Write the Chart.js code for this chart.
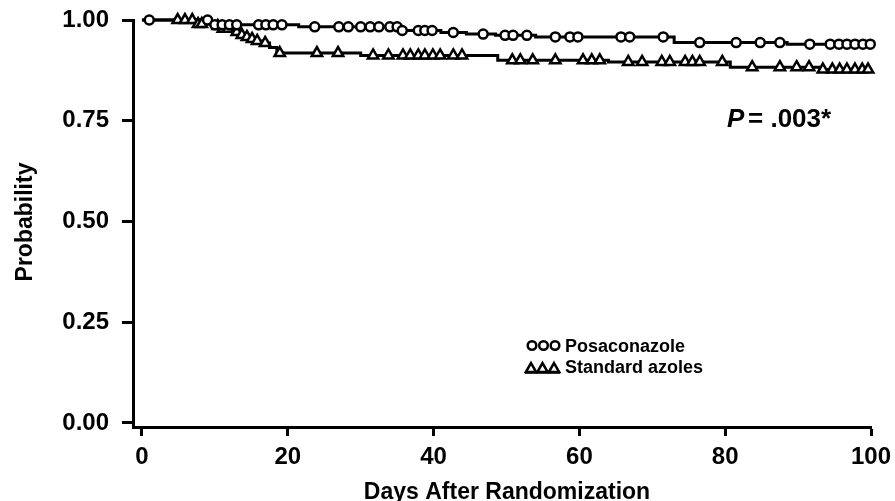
<!DOCTYPE html>
<html><head><meta charset="utf-8">
<script src="https://cdn.jsdelivr.net/npm/chart.js@4.4.0/dist/chart.umd.min.js"></script>
<style>html,body{margin:0;padding:0;background:#fff;} #wrap{width:895px;height:501px;position:relative;}</style>
</head><body><div id="wrap"><canvas id="c" width="895" height="501"></canvas></div>
<script>
// ---- data ----
const xTickValues = [0, 20, 40, 60, 80, 100];
const yTickValues = [0, 0.25, 0.5, 0.75, 1.0];
const xTitle = 'Days After Randomization';
const yTitle = 'Probability';
const seriesNames = ['Posaconazole', 'Standard azoles'];
const pLabel = 'P';
const pValueText = '= .003*';

const posaEventDays = [0, 9.5, 21.5, 35.5, 41, 44.5, 48.5, 54, 73, 88.5];
const posaSurvival  = [1, 0.988, 0.983, 0.974, 0.969, 0.965, 0.962, 0.958, 0.944, 0.940];
const posaCensorDays = [1, 9, 10, 11, 12, 13, 16, 17, 18, 19.2, 23.7, 27, 28.3, 30, 31.3, 32.5, 34, 35, 35.7, 37.9, 38.8, 39.8, 42.7, 46.8, 49.8, 50.9, 52.8, 56.7, 58.7, 59.8, 65.7, 66.9, 71.5, 76.5, 81.5, 84.8, 87.5, 91.6, 94.4, 95.6, 96.7, 97.8, 98.9, 99.9];

const stdEventDays = [0, 7.4, 9.6, 10.9, 12.4, 13.4, 14.1, 14.8, 15.5, 16.4, 17.5, 18.5, 30, 48.8, 64, 80.7, 93];
const stdSurvival  = [1, 0.990, 0.985, 0.978, 0.970, 0.963, 0.958, 0.953, 0.948, 0.943, 0.932, 0.918, 0.912, 0.900, 0.896, 0.883, 0.877];
const stdCensorDays = [4.9, 5.9, 6.9, 7.7, 8.2, 10.4, 11.1, 11.8, 13.0, 13.7, 14.4, 15.1, 15.8, 16.9, 18.9, 24, 26.9, 31.7, 33.8, 35.8, 36.8, 37.9, 38.8, 39.9, 40.9, 42.7, 43.9, 50.8, 51.9, 53.6, 56.7, 60.5, 61.7, 62.8, 66.7, 68.6, 71.3, 72.4, 74.5, 75.5, 76.5, 79.6, 83.7, 87.5, 89.8, 91.5, 93.4, 94.7, 95.7, 96.7, 97.8, 98.8, 99.6];

const xEnd = 100;

// ---- helpers ----
function stepAt(days, surv, d) {
  let v = surv[0];
  for (let i = 0; i < days.length; i++) { if (days[i] <= d) v = surv[i]; }
  return v;
}
function curve(days, surv) {
  const pts = days.map((d, i) => ({x: d, y: surv[i]}));
  pts.push({x: xEnd, y: surv[surv.length - 1]});
  return pts;
}
function censors(days, surv, cd) {
  return cd.map(d => ({x: d, y: stepAt(days, surv, d)}));
}

const FONT = '"Liberation Sans", Arial, Helvetica, sans-serif';

const annot = {
  id: 'annot',
  afterDraw(chart) {
    const ctx = chart.ctx;
    ctx.save();
    ctx.fillStyle = '#000';
    ctx.strokeStyle = '#000';
    ctx.textBaseline = 'alphabetic';
    // x title
    ctx.font = 'bold 23px ' + FONT;
    ctx.textAlign = 'center';
    ctx.fillText(xTitle, 507, 499);
    // y title
    ctx.save();
    ctx.translate(32, 222);
    ctx.rotate(-Math.PI / 2);
    ctx.font = 'bold 23px ' + FONT;
    ctx.fillText(yTitle, 0, 0);
    ctx.restore();
    // p value
    ctx.textAlign = 'left';
    ctx.font = 'italic bold 26px ' + FONT;
    ctx.fillText(pLabel, 727, 127);
    ctx.font = 'bold 26px ' + FONT;
    ctx.fillText(pValueText, 748, 127);
    // legend
    ctx.lineWidth = 2.5;
    [532, 543.5, 555].forEach(cx => {
      ctx.beginPath(); ctx.arc(cx, 345.5, 4.3, 0, Math.PI * 2);
      ctx.fillStyle = '#fff'; ctx.fill(); ctx.stroke();
    });
    ctx.beginPath(); ctx.moveTo(525, 372.5); ctx.lineTo(560, 372.5); ctx.stroke();
    [531, 542.5, 554].forEach(cx => {
      const r = 6, cy = 369;
      ctx.beginPath();
      ctx.moveTo(cx, cy - r);
      ctx.lineTo(cx + r * 0.866, cy + r / 2);
      ctx.lineTo(cx - r * 0.866, cy + r / 2);
      ctx.closePath();
      ctx.fillStyle = '#fff'; ctx.fill(); ctx.stroke();
    });
    ctx.fillStyle = '#000';
    ctx.font = 'bold 18px ' + FONT;
    ctx.fillText(seriesNames[0], 565, 352);
    ctx.fillText(seriesNames[1], 565, 373);
    ctx.restore();
  }
};

new Chart(document.getElementById('c'), {
  type: 'line',
  data: {
    datasets: [
      { label: seriesNames[0] + ' censored', data: censors(posaEventDays, posaSurvival, posaCensorDays), showLine: false,
        pointStyle: 'circle', pointRadius: 4.5, pointBorderWidth: 2.5, pointBackgroundColor: '#fff', pointBorderColor: '#000', clip: false },
      { label: seriesNames[1] + ' censored', data: censors(stdEventDays, stdSurvival, stdCensorDays), showLine: false,
        pointStyle: 'triangle', pointRadius: 6, pointBorderWidth: 2.5, pointBackgroundColor: '#fff', pointBorderColor: '#000', clip: false },
      { label: seriesNames[0], data: curve(posaEventDays, posaSurvival), stepped: true, borderColor: '#000', borderWidth: 3, pointRadius: 0, fill: false, clip: false },
      { label: seriesNames[1], data: curve(stdEventDays, stdSurvival), stepped: true, borderColor: '#000', borderWidth: 3, pointRadius: 0, fill: false, clip: false }
    ]
  },
  options: {
    responsive: false,
    animation: false,
    devicePixelRatio: 1,
    layout: { padding: { left: 0, right: 24, top: 20, bottom: 0 } },
    plugins: { legend: { display: false }, tooltip: { enabled: false } },
    scales: {
      x: {
        type: 'linear', min: -1.23, max: 100,
        afterBuildTicks: s => { s.ticks = xTickValues.map(v => ({value: v})); },
        afterFit: s => { s.height = 74; s.paddingLeft = 0; s.paddingRight = 0; },
        grid: { display: true, drawOnChartArea: false, drawTicks: true, tickLength: 9, tickWidth: 3, tickColor: '#000' },
        border: { display: true, width: 3, color: '#000' },
        ticks: { color: '#000', font: { family: FONT, size: 24, weight: 'bold' }, padding: 7, maxRotation: 0, autoSkip: false }
      },
      y: {
        type: 'linear', min: -0.01, max: 1.0,
        afterBuildTicks: s => { s.ticks = yTickValues.map(v => ({value: v})); },
        afterFit: s => { s.width = 133; s.paddingTop = 0; s.paddingBottom = 0; },
        grid: { display: true, drawOnChartArea: false, drawTicks: true, tickLength: 11, tickWidth: 3, tickColor: '#000' },
        border: { display: true, width: 3, color: '#000' },
        ticks: { color: '#000', font: { family: FONT, size: 24, weight: 'bold' }, padding: 13, callback: v => v.toFixed(2) }
      }
    }
  },
  plugins: [annot]
});
</script>
</body></html>
